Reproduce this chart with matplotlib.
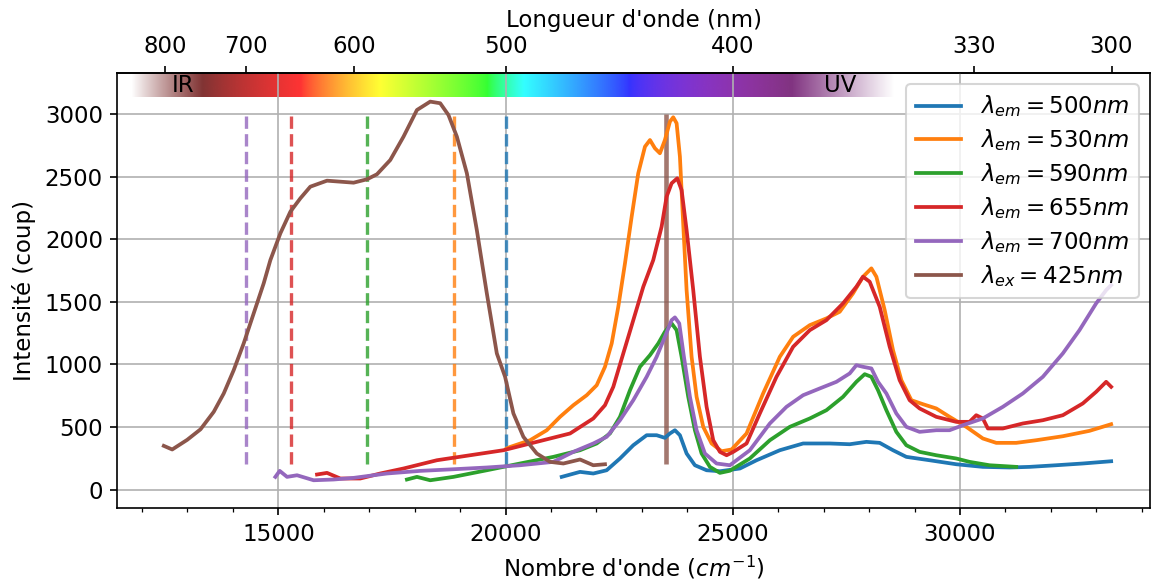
"""
Spectres d'emission / excitation avec bandeau spectral et axe en longueur d'onde.
"""

import numpy as np
import matplotlib
matplotlib.use("Agg")
import matplotlib.pyplot as plt
from matplotlib.ticker import MultipleLocator

plt.rcParams['font.size'] = 11


# ============================================================================
# Data
# ============================================================================

em500_x = [21235, 21638, 21930, 22224, 22517, 22810, 23104, 23324, 23506, 23616,
           23726, 23836, 23983, 24166, 24423, 24716, 25156, 25522, 26034, 26547,
           27133, 27572, 27939, 28232, 28525, 28818, 29330, 29916, 30502, 31089,
           31529, 32115, 32701, 33325]
em500_y = [101, 141, 128, 154, 248, 354, 434, 434, 413, 448,
           474, 434, 288, 194, 154, 146, 168, 234, 314, 368,
           368, 362, 381, 373, 314, 261, 234, 202, 181, 176,
           181, 194, 208, 226]

em530_x = [20027, 20099, 20539, 20906, 21198, 21491, 21785, 22005, 22187, 22335,
           22480, 22627, 22774, 22919, 23067, 23177, 23286, 23396, 23506, 23616,
           23689, 23763, 23836, 23908, 23983, 24093, 24203, 24349, 24533, 24753,
           24973, 25302, 25667, 26034, 26327, 26694, 27060, 27352, 27645, 27865,
           28049, 28159, 28342, 28525, 28709, 28929, 29184, 29477, 29770, 30137,
           30502, 30797, 31236, 31676, 32262, 32848, 33325]
em530_y = [328, 340, 394, 474, 581, 674, 754, 834, 981, 1168,
           1461, 1808, 2181, 2528, 2741, 2794, 2728, 2688, 2794, 2941,
           2976, 2928, 2661, 2128, 1594, 1061, 741, 501, 368, 306,
           320, 448, 768, 1061, 1221, 1314, 1368, 1421, 1568, 1701,
           1768, 1701, 1434, 1114, 874, 714, 682, 648, 581, 501,
           408, 373, 373, 394, 426, 469, 522]

em590_x = [17829, 18049, 18341, 18853, 19587, 20319, 21051, 21638, 22005, 22297,
           22517, 22737, 22957, 23177, 23360, 23506, 23653, 23763, 23873, 24019,
           24166, 24313, 24496, 24716, 24935, 25374, 25815, 26254, 26694, 27060,
           27425, 27719, 27902, 28049, 28195, 28379, 28598, 28818, 29110, 29477,
           29916, 30209, 30649, 31236]
em590_y = [80, 101, 74, 101, 154, 208, 261, 314, 368, 448,
           581, 794, 981, 1074, 1168, 1261, 1328, 1274, 1061, 741,
           474, 288, 181, 133, 150, 248, 394, 501, 568, 634,
           741, 861, 922, 901, 794, 634, 461, 354, 301, 274,
           248, 221, 194, 181]

em655_x = [15851, 16070, 16363, 16802, 17242, 17754, 18488, 19220, 19952, 20686,
           21418, 21930, 22187, 22370, 22590, 22810, 23030, 23249, 23433, 23543,
           23653, 23777, 23873, 23983, 24129, 24276, 24423, 24569, 24716, 24863,
           25009, 25302, 25594, 25961, 26327, 26694, 27060, 27425, 27719, 27865,
           28012, 28232, 28452, 28671, 28891, 29110, 29477, 29916, 30209, 30356,
           30502, 30612, 30942, 31382, 31822, 32262, 32701, 32995, 33215, 33325]
em655_y = [120, 133, 88, 88, 128, 168, 234, 274, 314, 381,
           448, 568, 674, 821, 1088, 1354, 1621, 1834, 2101, 2341,
           2448, 2488, 2394, 2074, 1594, 1061, 661, 394, 301, 274,
           301, 368, 608, 901, 1141, 1274, 1354, 1488, 1621, 1701,
           1661, 1461, 1141, 874, 714, 648, 581, 541, 541, 594,
           568, 488, 488, 528, 554, 594, 688, 781, 861, 821]

em700_x = [14934, 15029, 15191, 15411, 15776, 16216, 16655, 17388, 18121, 18853,
           19587, 20319, 21051, 21491, 21930, 22224, 22517, 22810, 23104, 23324,
           23506, 23653, 23726, 23821, 23924, 24056, 24203, 24386, 24643, 24935,
           25374, 25815, 26181, 26547, 26914, 27280, 27572, 27719, 27865, 28049,
           28195, 28379, 28598, 28818, 29110, 29477, 29770, 30063, 30502, 30942,
           31382, 31822, 32262, 32628, 32995, 33215, 33325]
em700_y = [101, 149, 101, 114, 74, 80, 93, 128, 149, 162,
           176, 194, 221, 301, 368, 421, 554, 714, 901, 1061,
           1221, 1354, 1376, 1328, 1061, 741, 474, 288, 208, 194,
           314, 528, 661, 754, 808, 861, 928, 994, 981, 968,
           861, 768, 608, 501, 461, 474, 474, 514, 568, 661,
           768, 901, 1088, 1274, 1488, 1594, 1634]

ex425_x = [12479, 12664, 12993, 13286, 13578, 13798, 14017, 14237, 14457, 14677,
           14824, 15044, 15264, 15484, 15703, 16070, 16363, 16655, 16950, 17169,
           17462, 17754, 18049, 18341, 18561, 18743, 18928, 19148, 19367, 19587,
           19807, 19989, 20172, 20392, 20686, 20979, 21271, 21638, 21930, 22187]
ex425_y = [349, 320, 397, 481, 621, 768, 954, 1168, 1408, 1648,
           1834, 2048, 2221, 2328, 2421, 2469, 2461, 2453, 2480, 2520,
           2634, 2821, 3034, 3101, 3088, 2994, 2821, 2528, 2074, 1568,
           1088, 901, 608, 421, 288, 221, 208, 240, 194, 202]

series = [
    (em500_x, em500_y, r'$\lambda_{em} = 500nm$', 'tab:blue'),
    (em530_x, em530_y, r'$\lambda_{em} = 530nm$', 'tab:orange'),
    (em590_x, em590_y, r'$\lambda_{em} = 590nm$', 'tab:green'),
    (em655_x, em655_y, r'$\lambda_{em} = 655nm$', 'tab:red'),
    (em700_x, em700_y, r'$\lambda_{em} = 700nm$', 'tab:purple'),
    (ex425_x, ex425_y, r'$\lambda_{ex} = 425nm$', 'tab:brown'),
]

# longueurs d'onde des raies marquees (nm)
em_lambdas = [700, 655, 590, 530, 500]
em_colors = ['tab:purple', 'tab:red', 'tab:green', 'tab:orange', 'tab:blue']
ex_lambda = 425

top_ticks = [800, 700, 600, 500, 400, 330, 300]


# ============================================================================
# Spectre visible
# ============================================================================

def wavelength_to_rgba(wl, gamma=0.8):
    """Couleur approx. d'une longueur d'onde (nm), fondu vers le blanc hors visible."""
    if wl >= 750:
        a = 0.8 * max(0.0, (850 - wl) / 100)
    elif wl <= 380:
        a = 0.8 * max(0.0, (wl - 350) / 30)
    else:
        a = 0.8
    w = min(max(wl, 380.0), 750.0)
    if w <= 440:
        att = 0.3 + 0.7 * (w - 380) / 60
        r = ((-(w - 440) / 60) * att) ** gamma
        g = 0.0
        b = att ** gamma
    elif w <= 490:
        r, g, b = 0.0, ((w - 440) / 50) ** gamma, 1.0
    elif w <= 510:
        r, g, b = 0.0, 1.0, (-(w - 510) / 20) ** gamma
    elif w <= 580:
        r, g, b = ((w - 510) / 70) ** gamma, 1.0, 0.0
    elif w <= 645:
        r, g, b = 1.0, (-(w - 645) / 65) ** gamma, 0.0
    else:
        att = 0.3 + 0.7 * (750 - w) / 105
        r, g, b = att ** gamma, 0.0, 0.0
    return (r, g, b, a)


def nm2cm(x):
    x = np.asarray(x, dtype=float)
    with np.errstate(divide='ignore'):
        return np.where(x == 0, np.inf, 1e7 / x)


# ============================================================================
# Figure
# ============================================================================

fig = plt.figure(figsize=(1153 / 150, 581 / 150), dpi=150)
ax = fig.add_axes([0.1019, 0.1256, 0.8955, 0.7488])

k_lo, k_hi = 1e7 / 850, 1e7 / 350
ks = np.linspace(k_lo, k_hi, 800)
band = np.array([[wavelength_to_rgba(1e7 / k) for k in ks]])
ax.imshow(band, extent=[k_lo, k_hi, 3140, 3330], aspect='auto', zorder=0,
          interpolation='bilinear')

for x, y, label, color in series:
    ax.plot(x, y, color=color, lw=1.8, label=label, zorder=3)

for lam, col in zip(em_lambdas, em_colors):
    ax.vlines(1e7 / lam, 200, 3000, colors=col, linestyles='--', lw=1.6,
              alpha=0.8, zorder=2)
ax.vlines(1e7 / ex_lambda, 200, 3000, colors='tab:brown', lw=2.2, alpha=0.8, zorder=2)

ax.text(12912, 3226, 'IR', ha='center', va='center', zorder=4)
ax.text(27353, 3226, 'UV', ha='center', va='center', zorder=4)

ax.set_xlim(11460, 34180)
ax.set_ylim(-148, 3330)
ax.xaxis.set_minor_locator(MultipleLocator(1000))
ax.set_yticks([0, 500, 1000, 1500, 2000, 2500, 3000])
ax.grid(True)
ax.set_xlabel(r"Nombre d'onde ($cm^{-1}$)")
ax.set_ylabel('Intensité (coup)')

top = ax.secondary_xaxis('top', functions=(nm2cm, nm2cm))
top.set_xticks(top_ticks)
top.set_xticklabels([str(t) for t in top_ticks])
top.set_xlabel("Longueur d'onde (nm)")

ax.legend(loc='upper right', labelspacing=0.35)

fig.savefig('out.png', dpi=150)
